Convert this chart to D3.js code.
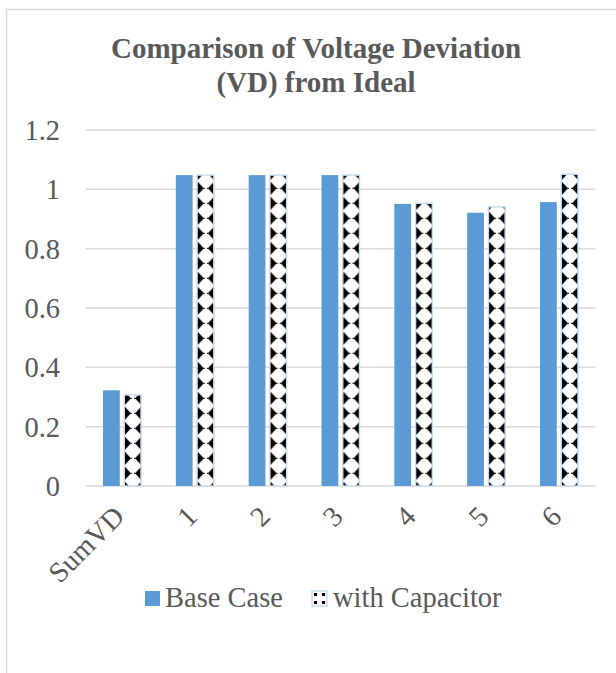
<!DOCTYPE html>
<html>
<head>
<meta charset="utf-8">
<script src="https://cdn.jsdelivr.net/npm/d3@7"></script>
<style>
  body { margin: 0; background: #fff; }
</style>
</head>
<body>
<div id="chart"></div>
<script>
// Data
var categories = ["SumVD", "1", "2", "3", "4", "5", "6"];
var baseCase = [0.3225, 1.048, 1.048, 1.048, 0.951, 0.921, 0.957];
var withCapacitor = [0.307, 1.048, 1.048, 1.048, 0.953, 0.941, 1.051];
var seriesNames = ["Base Case", "with Capacitor"];
var yTicks = [0, 0.2, 0.4, 0.6, 0.8, 1, 1.2];
var titleLines = ["Comparison of Voltage Deviation", "(VD) from Ideal"];

var width = 616, height = 673;
var margin = { top: 130, right: 20.6, bottom: 187, left: 85.6 };
var font = "'Liberation Serif', 'Times New Roman', 'DejaVu Serif', serif";

var svg = d3.select("#chart")
    .append("svg")
    .attr("width", width)
    .attr("height", height)
    .attr("font-family", font);

// diamond pattern used by the capacitor series
var defs = svg.append("defs");
var pat = defs.append("pattern")
    .attr("id", "diamonds")
    .attr("patternUnits", "userSpaceOnUse")
    .attr("x", 131 - 8)
    .attr("y", 428.3 - 7.5)
    .attr("width", 16)
    .attr("height", 15);
pat.append("rect").attr("width", 16).attr("height", 15).attr("fill", "#fff");
pat.append("path")
    .attr("d", "M8,1 L13.5,7 L15,7 L15,8 L13.5,8 L8,14 L2.5,8 L1,8 L1,7 L2.5,7 Z")
    .attr("fill", "#000");

// chart area border (runs off the right and bottom of the frame)
svg.append("rect")
    .attr("x", 6.5).attr("y", 9.5)
    .attr("width", 700).attr("height", 700)
    .attr("fill", "none")
    .attr("stroke", "#d9d9d9")
    .attr("stroke-width", 1.5);

// Scales
var x = d3.scaleBand()
    .domain(categories)
    .range([margin.left, width - margin.right])
    .padding(0);

var x1 = d3.scaleBand()
    .domain(seriesNames)
    .range([-19, 19])
    .paddingInner(0.21);

var y = d3.scaleLinear()
    .domain([0, 1.2])
    .range([height - margin.bottom, margin.top]);

// Gridlines
svg.append("g")
    .selectAll("line")
    .data(yTicks)
    .enter().append("line")
    .attr("x1", margin.left)
    .attr("x2", width - margin.right)
    .attr("y1", d => y(d))
    .attr("y2", d => y(d))
    .attr("stroke", "#d9d9d9")
    .attr("stroke-width", 1.5);

// Y axis labels
svg.append("g")
    .selectAll("text")
    .data(yTicks)
    .enter().append("text")
    .attr("x", 60)
    .attr("y", d => y(d))
    .attr("dy", "0.35em")
    .attr("text-anchor", "end")
    .attr("fill", "#595959")
    .style("font-size", "28.5px")
    .text(d => String(+d.toFixed(1)));

// Bars
var rows = categories.map((c, i) => ({ cat: c, vals: [baseCase[i], withCapacitor[i]] }));

var groups = svg.append("g")
    .selectAll("g")
    .data(rows)
    .enter().append("g")
    .attr("transform", d => `translate(${x(d.cat) + x.bandwidth() / 2},0)`);

groups.selectAll("rect")
    .data(d => d.vals.map((v, j) => ({ name: seriesNames[j], value: v })))
    .enter().append("rect")
    .attr("x", d => x1(d.name))
    .attr("y", d => y(d.value))
    .attr("width", x1.bandwidth())
    .attr("height", d => y(0) - y(d.value))
    .attr("fill", d => d.name === "Base Case" ? "#5b9bd5" : "url(#diamonds)")
    .attr("stroke", d => d.name === "Base Case" ? "none" : "#c9ddf1")
    .attr("stroke-width", 1.5);

// X axis labels, rotated
svg.append("g")
    .selectAll("text")
    .data(categories)
    .enter().append("text")
    .attr("transform", d => `translate(${x(d) + x.bandwidth() / 2 - 3},${y(0) + 25}) rotate(-45)`)
    .attr("text-anchor", "end")
    .attr("dy", "0.35em")
    .attr("fill", "#595959")
    .style("font-size", "28.5px")
    .text(d => d);

// Title
svg.append("g")
    .selectAll("text")
    .data(titleLines)
    .enter().append("text")
    .attr("x", 316)
    .attr("y", (d, i) => 58 + i * 34)
    .attr("text-anchor", "middle")
    .attr("fill", "#595959")
    .style("font-size", "29px")
    .style("font-weight", "bold")
    .text(d => d);

// Legend
var legend = svg.append("g");
var legendItems = [
    { name: seriesNames[0], sx: 145, tx: 165 },
    { name: seriesNames[1], sx: 312, tx: 333 }
];
legendItems.forEach(function(d, i) {
    legend.append("rect")
        .attr("x", d.sx).attr("y", 591)
        .attr("width", 15).attr("height", 15)
        .attr("fill", i === 0 ? "#5b9bd5" : "#fff")
        .attr("stroke", i === 0 ? "none" : "#c9ddf1")
        .attr("stroke-width", 1.5);
    if (i === 1) {
        // corner marks of the pattern swatch
        [[d.sx + 2, 593], [d.sx + 10, 593], [d.sx + 2, 601], [d.sx + 10, 601]].forEach(function(p) {
            legend.append("rect")
                .attr("x", p[0]).attr("y", p[1])
                .attr("width", 3).attr("height", 3)
                .attr("fill", "#000");
        });
    }
    legend.append("text")
        .attr("x", d.tx).attr("y", 607)
        .attr("fill", "#595959")
        .style("font-size", "28.5px")
        .text(d.name);
});
</script>
</body>
</html>
